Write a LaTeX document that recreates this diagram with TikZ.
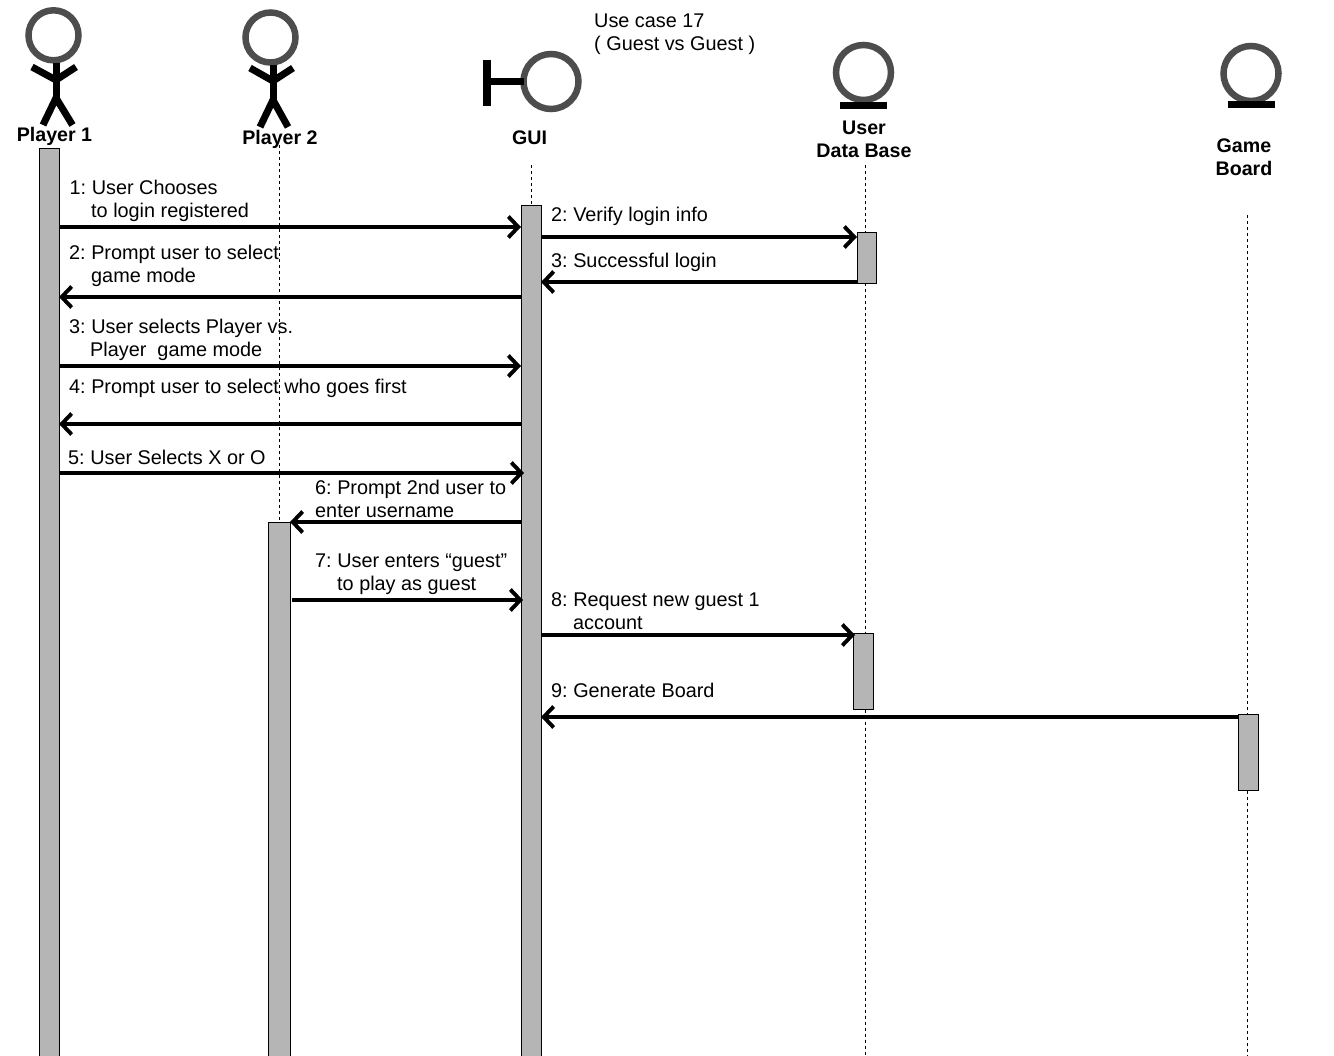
\documentclass[tikz,border=0pt]{standalone}
\usepackage{fontspec}
\setmainfont{Liberation Sans}
\usetikzlibrary{arrows.meta}
\definecolor{barfill}{HTML}{B5B5B5}
\definecolor{headgray}{HTML}{4D4D4D}
\tikzset{
  x=1pt,y=-1pt,
  txt/.style={anchor=base west,inner sep=0pt,align=left,yshift=-0.8pt,font=\frenchspacing\fontsize{19.85}{23.5}\selectfont},
  lbl/.style={anchor=base,inner sep=0pt,align=center,yshift=-0.8pt,font=\fontsize{19.65}{23.5}\selectfont\bfseries},
  bar/.style={draw=black,line width=1pt,fill=barfill,anchor=north west,inner sep=0pt,outer sep=0pt},
  life/.style={draw=black,line width=0.9pt,dash pattern=on 3pt off 3pt},
  msg/.style={draw=black,line width=3.9pt,-{Straight Barb[length=10pt,width=21pt,line width=3.9pt]}},
  head/.style={circle,draw=headgray,line width=6.5pt,inner sep=0pt,minimum size=50pt,outer sep=0pt},
  limb/.style={draw=black,line width=7pt},
  limbth/.style={draw=black,line width=7.5pt},
}
\begin{document}
\begin{tikzpicture}
\useasboundingbox (0,0) rectangle (1334,1056);
\fill[white] (0,0) rectangle (1334,1056);
% lifelines
\coordinate (lp2top) at (279,145);
\coordinate (lguitop) at (531.5,165);
\coordinate (ldbtop) at (865.5,165);
\coordinate (lgbtop) at (1247.5,215);
\coordinate (ldbend) at (865.5,1056);
\coordinate (lgbend) at (1247.5,1056);
% activation bars
\node[bar,minimum width=20pt,minimum height=912pt] (p1bar) at (39,148.5) {};
\node[bar,minimum width=22pt,minimum height=538pt] (p2bar) at (268,522.5) {};
\node[bar,minimum width=20pt,minimum height=855pt] (guibar) at (521,205.5) {};
\node[bar,minimum width=19pt,minimum height=51pt] (dbbara) at (857,232.5) {};
\node[bar,minimum width=20.5pt,minimum height=76pt] (dbbarb) at (853,633.5) {};
\node[bar,minimum width=20pt,minimum height=76pt] (gbbar) at (1238,714.5) {};
\draw[life] (lp2top) -- (p2bar.north -| lp2top);
\draw[life] (lguitop) -- (guibar.north -| lguitop);
\draw[life] (ldbtop) -- (dbbara.north -| ldbtop);
\draw[life] (dbbara.south -| ldbtop) -- (dbbarb.north -| ldbtop);
\draw[life] (dbbarb.south -| ldbtop) -- (ldbend);
\draw[life] (lgbtop) -- (gbbar.north -| lgbtop);
\draw[life] (gbbar.south -| lgbtop) -- (lgbend);
% actor Player 1
\node[head,minimum size=50pt] (h1) at (53.5,35.3) {};
\coordinate (h1b) at (56,63); \coordinate (h1c) at (56,98); \coordinate (h1a) at (56,80);
\draw[limb] (h1b) -- (h1c);
\draw[limb,line join=miter] (32,67) -- (h1a) -- (76,67);
\draw[limb,line join=miter] (43,125) -- (h1c) -- (72.5,125);
\node[lbl] (n1) at (54.5,141) {Player 1};
% actor Player 2
\node[head] (h2) at (270.5,37.5) {};
\coordinate (h2b) at (273,65); \coordinate (h2c) at (273,100); \coordinate (h2a) at (273,81);
\draw[limb] (h2b) -- (h2c);
\draw[limb,line join=miter] (250,68) -- (h2a) -- (293,68);
\draw[limb,line join=miter] (260,127) -- (h2c) -- (288,127);
\node[lbl] (n2) at (280,144) {Player 2};
% GUI boundary
\node[head,minimum size=55pt] (h3) at (551,81.5) {};
\coordinate (h3l) at (487,81.5);
\draw[limbth] (h3l) -- (h3.west);
\draw[line width=7.5pt] (487,60) -- (487,106);
\node[lbl] (n3) at (529.5,144) {GUI};
% User Data Base entity
\node[head,minimum size=55pt] (h4) at (863.5,72.5) {};
\draw[limbth] (840,105.5) -- (887,105.5);
\node[lbl] (n4) at (864,157) {User\\Data Base};
% Game Board entity
\node[head,minimum size=55pt] (h5) at (1251,73.5) {};
\draw[limbth] (1228,104.5) -- (1275,104.5);
\node[lbl] (n5) at (1244,175) {Game\\Board};
% title
\node[txt] (title) at (594,50) {Use case 17\\( Guest vs Guest )};
% messages
\draw[msg] (p1bar.east |- 0,227) -- (guibar.west |- 0,227);
\draw[msg] (guibar.west |- 0,297) -- (p1bar.east |- 0,297);
\draw[msg] (p1bar.east |- 0,366) -- (guibar.west |- 0,366);
\draw[msg] (guibar.west |- 0,424) -- (p1bar.east |- 0,424);
\draw[msg] (p1bar.east |- 0,473) -- (524,473);
\draw[msg] (guibar.west |- 0,522) -- (p2bar.east |- 0,522);
\draw[msg] (292,600) -- (523,600);
\draw[msg] (guibar.east |- 0,237) -- (dbbara.west |- 0,237);
\draw[msg] (dbbara.west |- 0,282) -- (guibar.east |- 0,282);
\draw[msg] (guibar.east |- 0,635) -- (855,635);
\draw[msg] (gbbar.west |- 0,717) -- (guibar.east |- 0,717);
% message labels
\node[txt] (t1) at (69.5,217) {1: User Chooses\\\hspace*{21.5pt}to login registered};
\node[txt] (t2) at (69,282) {2: Prompt user to select\\\hspace*{22pt}game mode};
\node[txt] (t3) at (69,356) {3: User selects Player vs.\\\hspace*{21pt}Player\ \ game mode};
\node[txt] (t4) at (69,393) {4: Prompt user to select who goes first};
\node[txt] (t5) at (68,464) {5: User Selects X or O};
\node[txt] (t6) at (315,517) {6: Prompt 2nd user to\\enter username};
\node[txt] (t7) at (315,590) {7: User enters “guest”\\\hspace*{22pt}to play as guest};
\node[txt] (t8) at (551,221) {2: Verify login info};
\node[txt] (t9) at (551,267) {3: Successful login};
\node[txt] (t10) at (551,629) {8: Request new guest 1\\\hspace*{22pt}account};
\node[txt] (t11) at (551,697) {9: Generate Board};
\end{tikzpicture}
\end{document}
